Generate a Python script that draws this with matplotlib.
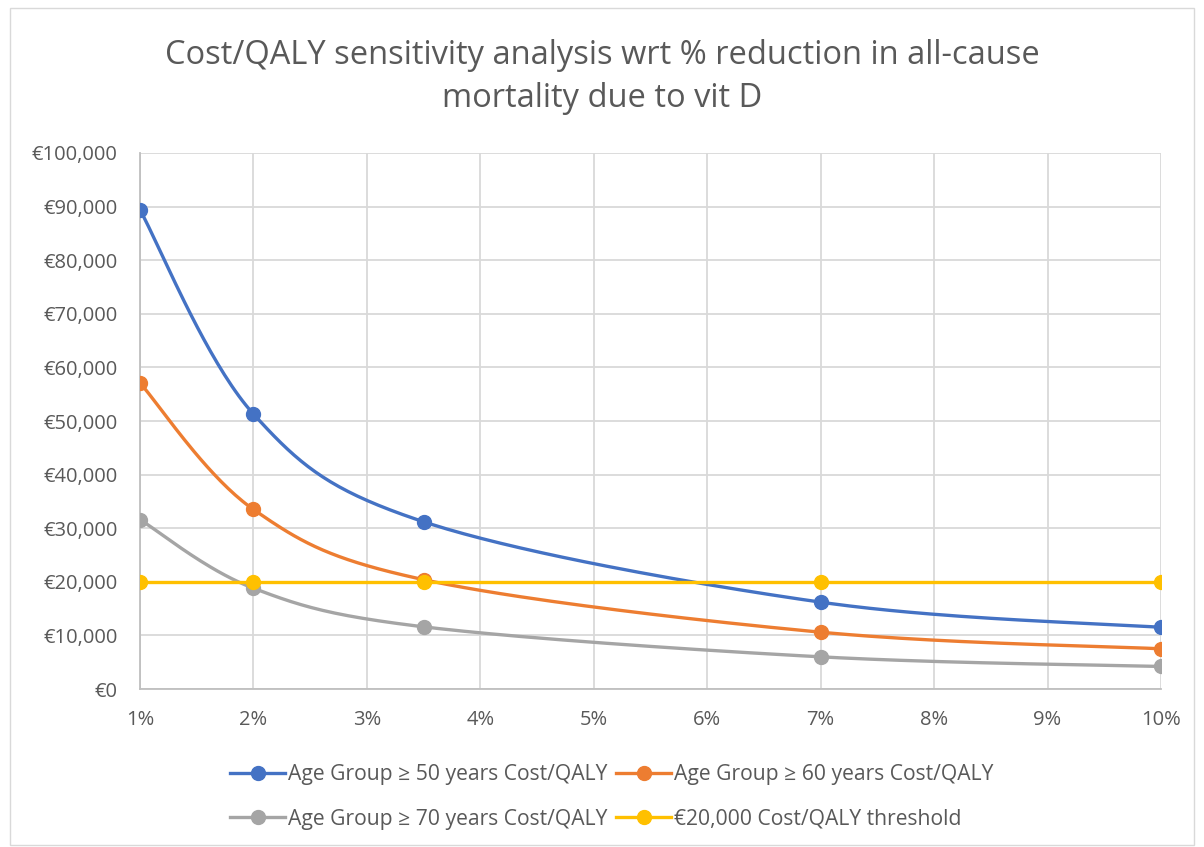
import numpy as np
import matplotlib.pyplot as plt
from matplotlib.patches import Rectangle
from matplotlib.ticker import FuncFormatter, MultipleLocator

plt.rcParams['font.family'] = ['Open Sans', 'DejaVu Sans']

reduction = [1, 2, 3.5, 7, 10]  # % reduction in all-cause mortality
age50 = [89400, 51300, 31200, 16200, 11500]
age60 = [57100, 33500, 20400, 10600, 7500]
age70 = [31600, 18800, 11600, 6000, 4200]
threshold = [20000, 20000, 20000, 20000, 20000]

labels = ['Age Group ≥ 50 years Cost/QALY', 'Age Group ≥ 60 years Cost/QALY',
          'Age Group ≥ 70 years Cost/QALY', '€20,000 Cost/QALY threshold']
colors = ['#4472C4', '#ED7D31', '#A5A5A5', '#FFC000']


def smooth(x, y, n=40):
    # Excel-style smoothed line: Catmull-Rom segments as cubic Beziers
    x = np.asarray(x, float)
    y = np.asarray(y, float)
    px = np.r_[x[0], x, x[-1]]
    py = np.r_[y[0], y, y[-1]]
    t = np.linspace(0, 1, n)[:, None]
    xs, ys = [], []
    for i in range(1, len(x)):
        p0 = np.array([px[i], py[i]])
        p3 = np.array([px[i + 1], py[i + 1]])
        c1 = p0 + (p3 - np.array([px[i - 1], py[i - 1]])) / 6
        c2 = p3 - (np.array([px[i + 2], py[i + 2]]) - p0) / 6
        pts = ((1 - t) ** 3) * p0 + 3 * ((1 - t) ** 2) * t * c1 + 3 * (1 - t) * t ** 2 * c2 + t ** 3 * p3
        xs.append(pts[:, 0])
        ys.append(pts[:, 1])
    return np.concatenate(xs), np.concatenate(ys)


fig = plt.figure(figsize=(12.04, 8.47), dpi=100)
ax = fig.add_axes([140 / 1204, 1 - 689 / 847, (1161 - 140) / 1204, (689 - 153) / 847])

handles = []
for ys, c, lab in zip([age50, age60, age70, threshold], colors, labels):
    sx, sy = smooth(reduction, ys)
    ax.plot(sx, sy, color=c, lw=2.4, solid_capstyle='round', zorder=3)
    ax.plot(reduction, ys, 'o', color=c, ms=10, zorder=4)
    h, = ax.plot([], [], '-o', color=c, lw=2.4, ms=10, label=lab)
    handles.append(h)

ax.set_xlim(1, 10)
ax.set_ylim(0, 100000)
ax.xaxis.set_major_locator(MultipleLocator(1))
ax.yaxis.set_major_locator(MultipleLocator(10000))
ax.xaxis.set_major_formatter(FuncFormatter(lambda v, p: f'{v:.0f}%'))
ax.yaxis.set_major_formatter(FuncFormatter(lambda v, p: f'€{v:,.0f}'))
ax.tick_params(length=0, labelsize=14.5, colors='#595959')
ax.tick_params(axis='y', pad=16)
ax.tick_params(axis='x', pad=15)
ax.grid(color='#D9D9D9', lw=1.3)
for side in ['top', 'right']:
    ax.spines[side].set_visible(False)
for side in ['left', 'bottom']:
    ax.spines[side].set_color('#BFBFBF')
    ax.spines[side].set_linewidth(1.3)
ax.set_axisbelow(True)

fig.text(0.5, 1 - 77 / 847, 'Cost/QALY sensitivity analysis wrt % reduction in all-cause\nmortality due to vit D',
         ha='center', va='center', fontsize=23.5, color='#595959', linespacing=1.38)

# column-major fill -> reorder so rows read 50/60 then 70/threshold
order = [0, 2, 1, 3]
fig.legend([handles[i] for i in order], [labels[i] for i in order],
           loc='center', bbox_to_anchor=(612 / 1204, 1 - 797 / 847), ncol=2, frameon=False,
           fontsize=15.2, labelcolor='#595959', handlelength=2.6, handletextpad=0.15,
           columnspacing=0.4, labelspacing=1.1)

fig.add_artist(Rectangle((10 / 1204, 0.002), 1 - 20 / 1204, 1 - 10 / 847, transform=fig.transFigure,
                         fill=False, edgecolor='#D9D9D9', lw=1))

fig.savefig('out.png', dpi=100)
